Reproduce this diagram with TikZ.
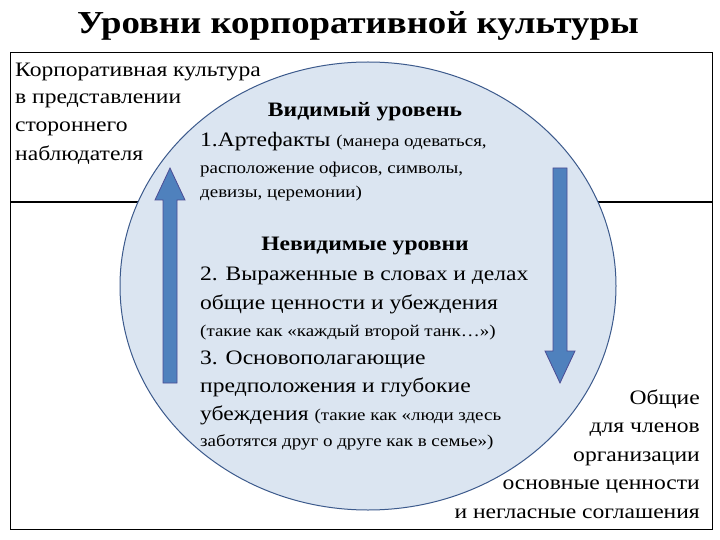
\documentclass[tikz,border=0pt]{standalone}
\usepackage{fontspec}
\setmainfont{Liberation Serif}[FakeStretch=1.15]
\usetikzlibrary{arrows.meta,shapes.geometric}
\begin{document}
\begin{tikzpicture}[x=1pt,y=-1pt,
  big/.style={font=\fontsize{20.5}{22}\selectfont, anchor=base west, inner sep=0},
  sm/.style={font=\fontsize{16.5}{18}\selectfont, anchor=base west, inner sep=0},
  rt/.style={font=\fontsize{20.5}{22}\selectfont, anchor=base east, inner sep=0},
  hd/.style={font=\bfseries\fontsize{20.5}{22}\selectfont, anchor=base, inner sep=0},
  fat/.style={draw=blue!40!black!70, fill={rgb,255:red,79;green,129;blue,189}, line width=0.8pt}]
\useasboundingbox (0,0) rectangle (720,540);
\fill[white] (0,0) rectangle (720,540);
\node[font=\bfseries\fontsize{32}{34}\selectfont, anchor=base] (title) at (358,34) {Уровни корпоративной культуры};
\draw[line width=0.8pt] (10,52) rectangle (712,529);
\draw[line width=1.2pt] (10,202) -- (712,202);
\node[draw={rgb,255:red,60;green,90;blue,140}, line width=1pt, fill={rgb,255:red,219;green,229;blue,241}, ellipse, minimum width=496, minimum height=448, inner sep=0] (ell) at (368,286) {};
% arrows
\draw[fat] (163,383) -- (163,200) -- (155,200) -- (170,168) -- (185,200) -- (177,200) -- (177,383) -- cycle;
\draw[fat] (553,168) -- (553,351) -- (545,351) -- (560,383) -- (575,351) -- (567,351) -- (567,168) -- cycle;
% left text
\node[big] (l1) at (15,77) {Корпоративная культура};
\node[big] (l2) at (15,104) {в представлении};
\node[big] (l3) at (15,132) {стороннего};
\node[big] (l4) at (15,161) {наблюдателя};
\node[hd] (v) at (365,117) {Видимый уровень};
\node[big] (v1) at (200,147) {1.Артефакты {\fontsize{16.5}{18}\selectfont (манера одеваться,}};
\node[sm] (v2) at (200,174) {расположение офисов, символы,};
\node[sm] (v3) at (200,198) {девизы, церемонии)};
\node[hd] (n) at (365,251) {Невидимые уровни};
\node[big] (n1) at (200,280) {2. Выраженные в словах и делах};
\node[big] (n2) at (200,309) {общие ценности и убеждения};
\node[sm] (n3) at (200,336) {(такие как «каждый второй танк…»)};
\node[big] (n4) at (200,364) {3. Основополагающие};
\node[big] (n5) at (200,392) {предположения и глубокие};
\node[big] (n6) at (200,420) {убеждения {\fontsize{16.5}{18}\selectfont (такие как «люди здесь}};
\node[sm] (n7) at (200,446) {заботятся друг о друге как в семье»)};
\node[rt] (r1) at (700,404) {Общие};
\node[rt] (r2) at (700,432) {для членов};
\node[rt] (r3) at (700,461) {организации};
\node[rt] (r4) at (700,489) {основные ценности};
\node[rt] (r5) at (700,518) {и негласные соглашения};
\end{tikzpicture}
\end{document}
